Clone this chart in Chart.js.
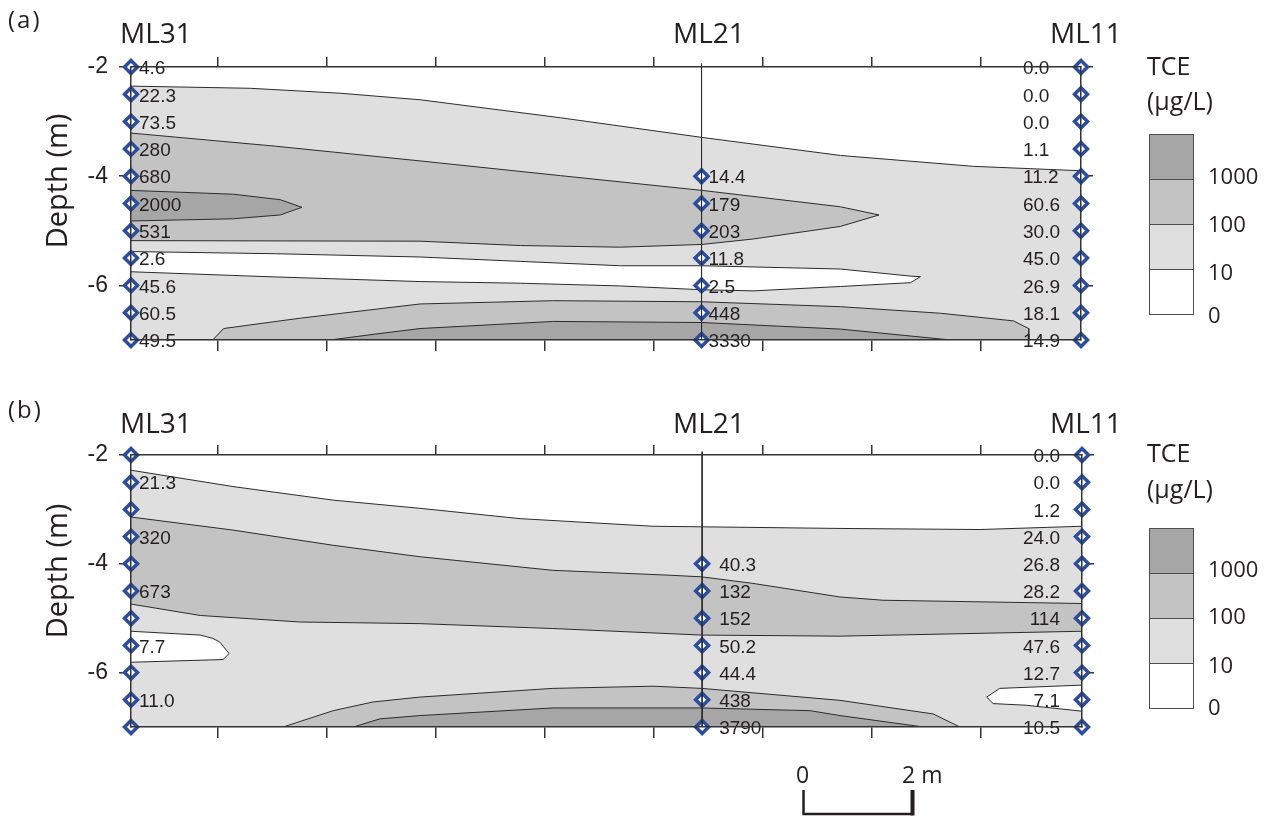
<!DOCTYPE html>
<html>
<head>
<meta charset="utf-8">
<title>TCE cross-sections</title>
<script src="https://cdn.jsdelivr.net/npm/chart.js@4/dist/chart.umd.min.js"></script>
<style>
  body { margin: 0; background: #fff; }
  #page { position: relative; width: 1275px; height: 816px; overflow: hidden;
          font-family: "Open Sans", "Noto Sans", sans-serif; color: #231f20; }
  canvas { position: absolute; left: 0; }
  .t { position: absolute; white-space: nowrap; line-height: 1; }
  .rot { transform: translate(-50%, -50%) rotate(-90deg); }
  .key { position: absolute; width: 43px; border: 1px solid #4d4d4d; }
  .key div { height: 44px; border-top: 1px solid #4d4d4d; }
  .key div:first-child { border-top: none; }
</style>
</head>
<body>
<div id="page">
  <canvas id="panelA" width="1275" height="390" style="top:0"></canvas>
  <canvas id="panelB" width="1275" height="426" style="top:390px"></canvas>

  <!-- (a) -->
  <div class="t" style="left:8px;top:7px;font-size:24px;letter-spacing:2px">(a)</div>
  <div class="t" style="left:120px;top:18px;font-size:28px">ML31</div>
  <div class="t" style="left:673px;top:18px;font-size:28px">ML21</div>
  <div class="t" style="left:1050px;top:18px;font-size:28px">ML11</div>
  <div class="t rot" style="left:55px;top:181px;font-size:29px">Depth (m)</div>
  <div class="t" style="left:1147px;top:53px;font-size:25px">TCE</div>
  <div class="t" style="left:1147px;top:88px;font-size:25px">(µg/L)</div>
  <div class="key" style="left:1149px;top:134px">
    <div style="background:#a6a6a6"></div><div style="background:#c3c3c3"></div>
    <div style="background:#dfdfdf"></div><div style="background:#fff"></div>
  </div>
  <div class="t" style="left:1208px;top:164px;font-size:22px">1000</div>
  <div class="t" style="left:1208px;top:212px;font-size:22px">100</div>
  <div class="t" style="left:1208px;top:260px;font-size:22px">10</div>
  <div class="t" style="left:1208px;top:303px;font-size:22px">0</div>

  <!-- (b) -->
  <div class="t" style="left:8px;top:397px;font-size:24px;letter-spacing:2px">(b)</div>
  <div class="t" style="left:120px;top:408px;font-size:28px">ML31</div>
  <div class="t" style="left:673px;top:408px;font-size:28px">ML21</div>
  <div class="t" style="left:1050px;top:408px;font-size:28px">ML11</div>
  <div class="t rot" style="left:55px;top:571px;font-size:29px">Depth (m)</div>
  <div class="t" style="left:1147px;top:440px;font-size:25px">TCE</div>
  <div class="t" style="left:1147px;top:476px;font-size:25px">(µg/L)</div>
  <div class="key" style="left:1149px;top:528px">
    <div style="background:#a6a6a6"></div><div style="background:#c3c3c3"></div>
    <div style="background:#dfdfdf"></div><div style="background:#fff"></div>
  </div>
  <div class="t" style="left:1208px;top:557px;font-size:22px">1000</div>
  <div class="t" style="left:1208px;top:604px;font-size:22px">100</div>
  <div class="t" style="left:1208px;top:653px;font-size:22px">10</div>
  <div class="t" style="left:1208px;top:695px;font-size:22px">0</div>

  <!-- scale bar text -->
  <div class="t" style="left:796px;top:763px;font-size:23px">0</div>
  <div class="t" style="left:902px;top:763px;font-size:23px">2 m</div>
</div>

<script>
// ── Shared geometry (metres) ───────────────────────
const X_MAX      = 17.45;
const xTicks     = [1.6, 3.6, 5.6, 7.6, 9.6, 11.6, 13.6, 15.6];
const yTicks     = [-2, -4, -6];
const wellX      = [0, 10.48, 17.45];          // ML31, ML21, ML11
const depthsFull = [-2, -2.5, -3, -3.5, -4, -4.5, -5, -5.5, -6, -6.5, -7];
const depthsMid  = [-4, -4.5, -5, -5.5, -6, -6.5, -7];
const wellTop    = -1.94;                       // ML21 casing sticks out a little
const scaleBarAt  = 12.34;
const scaleBarLen = 2;

// ── Panel (a) — TCE (µg/L) at sampling ports ──────
const a_ML31 = ['4.6', '22.3', '73.5', '280', '680', '2000', '531', '2.6', '45.6', '60.5', '49.5'];
const a_ML21 = ['14.4', '179', '203', '11.8', '2.5', '448', '3330'];
const a_ML11 = ['0.0', '0.0', '0.0', '1.1', '11.2', '60.6', '30.0', '45.0', '26.9', '18.1', '14.9'];

// contour outlines, [distance, depth]
const a_c10_top   = [[0, -2.35], [2.19, -2.39], [3.84, -2.48], [5.31, -2.6], [7.89, -2.93], [10.49, -3.29],
                     [13.03, -3.62], [15.48, -3.82], [17.45, -3.9]];
const a_c10_low   = [[0, -5.38], [2.65, -5.42], [5.31, -5.48], [7.15, -5.56], [8.99, -5.64], [10.49, -5.64],
                     [13.03, -5.7], [14.32, -5.83], [14.5, -5.84], [14.32, -5.95], [13.03, -6.02],
                     [11.43, -6.1], [10.49, -6.08], [8.99, -6.01], [7.15, -5.96], [5.31, -5.93],
                     [2.5, -5.84], [0, -5.75]];
const a_c100_top  = [[0, -3.21], [2.65, -3.45], [5.31, -3.72], [7.89, -3.99], [10.49, -4.26], [13.03, -4.56],
                     [13.74, -4.71], [13.03, -4.92], [11.43, -5.15], [10.49, -5.25], [8.99, -5.3],
                     [7.15, -5.27], [5.31, -5.19], [0, -5.18]];
const a_c100_bot  = [[1.5, -7], [1.7, -6.79], [3.11, -6.6], [5.31, -6.34], [7.76, -6.28], [10.49, -6.3],
                     [13.03, -6.39], [14.87, -6.51], [16.21, -6.65], [16.49, -6.79], [16.49, -7]];
const a_c1000_top = [[0, -4.26], [1.88, -4.33], [2.74, -4.43], [3.14, -4.57], [2.74, -4.71], [1.88, -4.78],
                     [0, -4.82]];
const a_c1000_bot = [[3.66, -7], [4.5, -6.89], [5.31, -6.79], [7.76, -6.66], [10.49, -6.68], [13.03, -6.8],
                     [15.06, -7]];

// ── Panel (b) ──────────────────────────────────────
const b_ML31 = [null, '21.3', null, '320', null, '673', null, '7.7', null, '11.0', null];
const b_ML21 = ['40.3', '132', '152', '50.2', '44.4', '438', '3790'];
const b_ML11 = ['0.0', '0.0', '1.2', '24.0', '26.8', '28.2', '114', '47.6', '12.7', '7.1', '10.5'];

const b_c10_top   = [[0, -2.28], [1.87, -2.58], [3.71, -2.83], [5.3, -2.98], [7.14, -3.17], [9.58, -3.31],
                     [10.47, -3.32], [13.01, -3.35], [15.58, -3.37], [17.45, -3.31]];
const b_c10_lowL  = [[0, -5.24], [1.27, -5.31], [1.5, -5.37], [1.63, -5.44], [1.8, -5.65], [1.69, -5.76],
                     [0, -5.81]];
const b_c10_lowR  = [[17.45, -6.23], [15.94, -6.29], [15.7, -6.45], [15.82, -6.57], [16.43, -6.6],
                     [17.45, -6.71]];
const b_c100_band = [[0, -3.14], [1.87, -3.38], [3.71, -3.66], [5.3, -3.87], [7.74, -4.12], [9.89, -4.21],
                     [10.47, -4.24], [11.41, -4.36], [13.01, -4.61], [13.8, -4.67], [17.45, -4.73],
                     [17.45, -5.24], [13.01, -5.33], [10.47, -5.31], [7.74, -5.19], [5.3, -5.1],
                     [3.1, -5.07], [1.27, -4.95], [0, -4.74]];
const b_c100_bot  = [[2.79, -7], [3.71, -6.7], [4.44, -6.54], [5.3, -6.45], [7.74, -6.29], [9.58, -6.25],
                     [10.47, -6.29], [13.01, -6.51], [14.72, -6.76], [15.21, -7]];
const b_c1000_bot = [[4.08, -7], [4.57, -6.85], [5.3, -6.79], [7.74, -6.65], [10.47, -6.65], [12.46, -6.7],
                     [13.01, -6.79], [14.54, -7]];

// ── Styles ─────────────────────────────────────────
const C_LIGHT = '#dfdfdf';
const C_MID   = '#c3c3c3';
const C_DARK  = '#a6a6a6';
const C_WHITE = '#ffffff';
const LINE    = '#2b2b2b';
const AXIS    = '#333333';
const BLUE    = '#2c4c9c';

const toXY = pts => pts.map(([x, y]) => ({ x, y }));

const area = (pts, color) => ({
  data: toXY(pts),
  fill: 'shape',
  backgroundColor: color,
  borderColor: LINE,
  borderWidth: 1,
  pointRadius: 0,
  tension: 0
});

const ports = (x, depths) => ({
  data: depths.map(d => ({ x, y: d })),
  showLine: false,
  pointStyle: 'rectRot',
  pointRadius: 6.5,
  pointBorderWidth: 3.5,
  pointBorderColor: BLUE,
  pointBackgroundColor: '#fff',
  clip: false,
  order: 1
});

const wellLine = x => ({
  data: [{ x, y: wellTop }, { x, y: -7 }],
  borderColor: LINE,
  borderWidth: 1,
  pointRadius: 0,
  clip: false,
  order: 0
});

const tickAxis = (position, len, size, extra = {}) => ({
  type: 'linear',
  position,
  grid: { drawOnChartArea: false, drawTicks: true, tickLength: len, color: AXIS, lineWidth: 1.5 },
  border: { color: AXIS, width: 1.5, z: 1 },
  ticks: { display: false },
  afterFit: s => {
    if (s.isHorizontal()) s.height = size; else s.width = size;
  },
  ...extra
});

// ── Panel factory ──────────────────────────────────
const makePanel = (id, p) => {
  const labelPlugin = {
    id: 'portLabels',
    afterDatasetsDraw(chart) {
      const { ctx, scales: { x, y } } = chart;
      ctx.save();
      ctx.font = '19px "Liberation Sans", Arial, sans-serif';
      ctx.fillStyle = '#231f20';
      ctx.textBaseline = 'middle';
      p.labels.forEach(w => {
        ctx.textAlign = w.align;
        w.values.forEach((txt, i) => {
          if (txt == null) return;
          ctx.fillText(txt, x.getPixelForValue(w.x) + w.dx, y.getPixelForValue(w.depths[i]) + 2);
        });
      });
      ctx.restore();
    }
  };

  const datasets = p.areas.map((d, i) => ({ ...d, order: 100 - i }));
  datasets.push(ports(wellX[0], depthsFull), ports(wellX[1], depthsMid), ports(wellX[2], depthsFull));
  datasets.push(wellLine(wellX[1]));

  return new Chart(document.getElementById(id), {
    type: 'line',
    data: { datasets },
    options: {
      responsive: false,
      animation: false,
      devicePixelRatio: 1,
      events: [],
      layout: { padding: 0 },
      plugins: { legend: { display: false }, tooltip: { enabled: false } },
      scales: {
        x: tickAxis('bottom', 11, p.height - p.bottom, {
          min: 0, max: X_MAX,
          afterBuildTicks: s => { s.ticks = xTicks.map(v => ({ value: v })); }
        }),
        xTop: tickAxis('top', 10, p.top, {
          min: 0, max: X_MAX,
          afterBuildTicks: s => { s.ticks = xTicks.map(v => ({ value: v })); }
        }),
        y: tickAxis('left', 12, 131, {
          min: -7, max: -2,
          afterBuildTicks: s => { s.ticks = yTicks.map(v => ({ value: v })); },
          ticks: { color: '#231f20', padding: 11, font: { family: '"Liberation Sans", Arial', size: 23 } }
        }),
        y2: tickAxis('right', 12, 1275 - p.right, {
          min: -7, max: -2,
          afterBuildTicks: s => { s.ticks = yTicks.map(v => ({ value: v })); }
        })
      }
    },
    plugins: [labelPlugin, ...(p.extra || [])]
  });
};

// ── Scale bar (2 m, drawn from the x scale) ────────
const scaleBar = {
  id: 'scaleBar',
  afterDraw(chart) {
    const { ctx, scales: { x } } = chart;
    const x0 = x.getPixelForValue(scaleBarAt);
    const x1 = x.getPixelForValue(scaleBarAt + scaleBarLen);
    ctx.save();
    ctx.strokeStyle = '#231f20';
    ctx.lineWidth = 2.5;
    ctx.beginPath();
    ctx.moveTo(x0, 400);
    ctx.lineTo(x0, 424);
    ctx.lineTo(x1, 424);
    ctx.stroke();
    ctx.lineWidth = 4;
    ctx.beginPath();
    ctx.moveTo(x1, 400);
    ctx.lineTo(x1, 425.5);
    ctx.stroke();
    ctx.restore();
  }
};

// ── Build ──────────────────────────────────────────
makePanel('panelA', {
  height: 390, top: 67, bottom: 340, right: 1081,
  areas: [
    area([...a_c10_top, [X_MAX, -7], [0, -7]], C_LIGHT),
    area(a_c10_low, C_WHITE),
    area(a_c100_top, C_MID),
    area(a_c1000_top, C_DARK),
    area(a_c100_bot, C_MID),
    area(a_c1000_bot, C_DARK)
  ],
  labels: [
    { x: wellX[0], depths: depthsFull, values: a_ML31, dx: 8, align: 'left' },
    { x: wellX[1], depths: depthsMid, values: a_ML21, dx: 7, align: 'left' },
    { x: wellX[2], depths: depthsFull, values: a_ML11, dx: -58, align: 'left' }
  ]
});

makePanel('panelB', {
  height: 426, top: 65, bottom: 337, right: 1082,
  areas: [
    area([...b_c10_top, [X_MAX, -7], [0, -7]], C_LIGHT),
    area(b_c100_band, C_MID),
    area(b_c10_lowL, C_WHITE),
    area(b_c10_lowR, C_WHITE),
    area(b_c100_bot, C_MID),
    area(b_c1000_bot, C_DARK)
  ],
  labels: [
    { x: wellX[0], depths: depthsFull, values: b_ML31, dx: 8, align: 'left' },
    { x: wellX[1], depths: depthsMid, values: b_ML21, dx: 17, align: 'left' },
    { x: wellX[2], depths: depthsFull, values: b_ML11, dx: -22, align: 'right' }
  ],
  extra: [scaleBar]
});
</script>
</body>
</html>
